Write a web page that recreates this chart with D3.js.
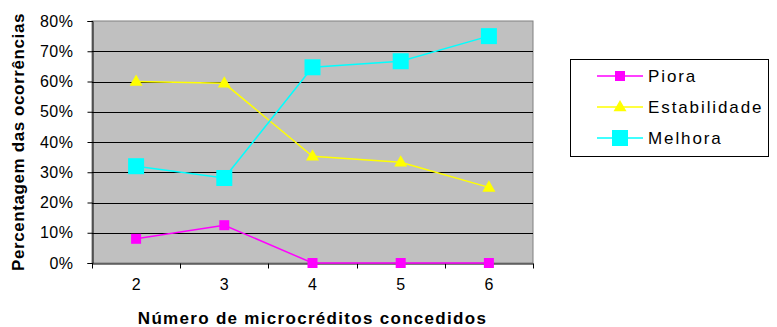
<!DOCTYPE html>
<html>
<head>
<meta charset="utf-8">
<script src="https://cdn.jsdelivr.net/npm/d3@7"></script>
<style>
  html, body { margin: 0; padding: 0; background: #fff; }
  svg { display: block; font-family: "Liberation Sans", Arial, sans-serif; }
</style>
</head>
<body>
<svg id="chart" width="777" height="327"></svg>
<script>
// Number of microcredits granted
const categories = ["2", "3", "4", "5", "6"];
// Share of occurrences (%) per outcome
const piora = [8, 12.5, 0, 0, 0];
const estabilidade = [60, 59.4, 35.3, 33.3, 25];
const melhora = [32, 28.1, 64.7, 66.7, 75];
const yTicks = [0, 10, 20, 30, 40, 50, 60, 70, 80];

const series = [
  { name: "Piora", values: piora, color: "#FF00FF", shape: "square", size: 10 },
  { name: "Estabilidade", values: estabilidade, color: "#FFFF00", shape: "triangle", size: 13 },
  { name: "Melhora", values: melhora, color: "#00FFFF", shape: "square", size: 16 }
];

const FONT = "'Liberation Sans', Arial, sans-serif";
const svg = d3.select("#chart");
const plot = { left: 92, right: 533, top: 21, bottom: 263 };

const x = d3.scaleBand().domain(categories).range([plot.left, plot.right]);
const y = d3.scaleLinear().domain([0, 80]).range([plot.bottom, plot.top]);

// plot background and frame
svg.append("rect")
  .attr("x", plot.left).attr("y", plot.top)
  .attr("width", plot.right - plot.left).attr("height", plot.bottom - plot.top)
  .attr("fill", "#C0C0C0").attr("stroke", "#808080").attr("stroke-width", 1);

// horizontal gridlines
svg.append("g").selectAll("line")
  .data(yTicks.filter(d => d > 0 && d < 80))
  .join("line")
  .attr("x1", plot.left).attr("x2", plot.right)
  .attr("y1", d => Math.round(y(d)) + 0.5).attr("y2", d => Math.round(y(d)) + 0.5)
  .attr("stroke", "#000").attr("stroke-width", 1);

// y axis
const yAxis = svg.append("g")
  .attr("transform", `translate(${plot.left + 0.5},0)`)
  .call(d3.axisLeft(y).tickValues(yTicks).tickFormat(d => d + "%").tickSize(5).tickPadding(14));
yAxis.select(".domain").attr("stroke", "#000");
yAxis.selectAll(".tick line").attr("stroke", "#000");
yAxis.selectAll("text").attr("font-size", 16).attr("fill", "#000")
  .attr("font-family", FONT).attr("letter-spacing", 0.5);

// x axis with ticks at category boundaries
const xAxis = svg.append("g")
  .attr("transform", `translate(0,${plot.bottom + 0.5})`)
  .call(d3.axisBottom(x).tickSize(0).tickPadding(15));
xAxis.select(".domain").attr("stroke", "#000");
xAxis.selectAll("text").attr("font-size", 16).attr("fill", "#000")
  .attr("font-family", FONT);
const bounds = categories.map(c => x(c)).concat([x(categories[categories.length - 1]) + x.bandwidth()]);
xAxis.selectAll(".bound")
  .data(bounds)
  .join("line")
  .attr("class", "bound")
  .attr("x1", d => Math.round(d) + 0.5).attr("x2", d => Math.round(d) + 0.5)
  .attr("y1", 0).attr("y2", 5)
  .attr("stroke", "#000");

// marker drawing helper
function marker(g, shape, size, color) {
  if (shape === "square") {
    g.append("rect")
      .attr("x", -size / 2).attr("y", -size / 2)
      .attr("width", size).attr("height", size)
      .attr("fill", color);
  } else {
    const h = size * 0.87;
    g.append("path")
      .attr("d", `M0,${-h * 0.62}L${size / 2},${h * 0.38}L${-size / 2},${h * 0.38}Z`)
      .attr("fill", color);
  }
}

const cx = c => x(c) + x.bandwidth() / 2;
const line = d3.line().x((d, i) => cx(categories[i])).y(d => y(d));

series.forEach(s => {
  const g = svg.append("g");
  g.append("path")
    .attr("d", line(s.values))
    .attr("fill", "none").attr("stroke", s.color).attr("stroke-width", 1.5);
  s.values.forEach((v, i) => {
    const m = g.append("g").attr("transform", `translate(${cx(categories[i])},${y(v)})`);
    marker(m, s.shape, s.size, s.color);
  });
});

// axis titles
svg.append("text")
  .attr("transform", `translate(24,${(plot.top + plot.bottom) / 2}) rotate(-90)`)
  .attr("text-anchor", "middle")
  .attr("font-size", 17).attr("font-weight", "bold").attr("fill", "#000")
  .attr("letter-spacing", 0.6)
  .text("Percentagem das ocorrências");

svg.append("text")
  .attr("x", (plot.left + plot.right) / 2).attr("y", 324)
  .attr("text-anchor", "middle")
  .attr("font-size", 17).attr("font-weight", "bold").attr("fill", "#000")
  .attr("letter-spacing", 1.3)
  .text("Número de microcréditos concedidos");

// legend
const legend = svg.append("g");
legend.append("rect")
  .attr("x", 570.5).attr("y", 59.5).attr("width", 198).attr("height", 97)
  .attr("fill", "#fff").attr("stroke", "#000").attr("stroke-width", 1);
series.forEach((s, i) => {
  const ly = 76 + i * 31;
  legend.append("line")
    .attr("x1", 597).attr("x2", 643).attr("y1", ly).attr("y2", ly)
    .attr("stroke", s.color).attr("stroke-width", 1.5);
  const m = legend.append("g").attr("transform", `translate(620,${ly})`);
  marker(m, s.shape, s.size, s.color);
  legend.append("text")
    .attr("x", 648).attr("y", ly).attr("dy", "0.35em")
    .attr("font-size", 17).attr("letter-spacing", 1.9).attr("fill", "#000")
    .text(s.name);
});
</script>
</body>
</html>
